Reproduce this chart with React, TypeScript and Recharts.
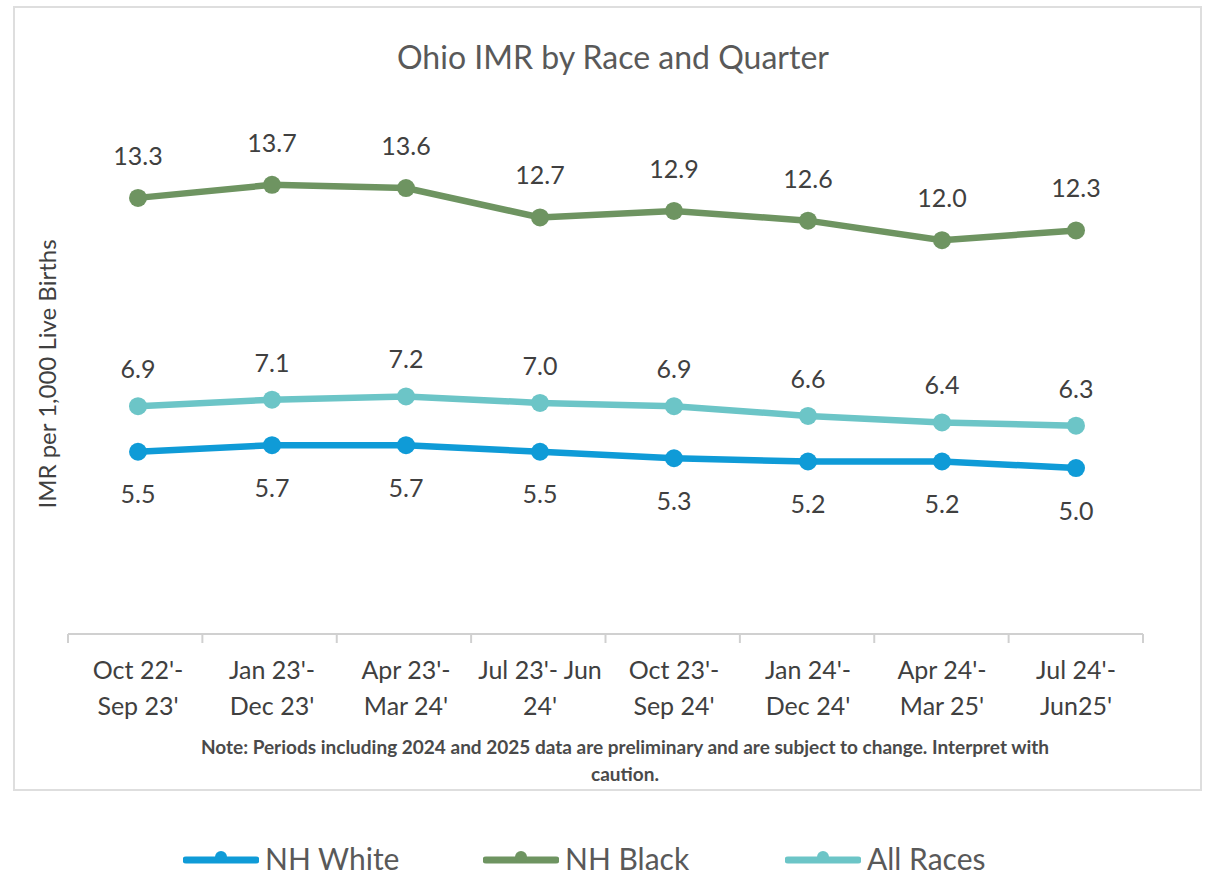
import React from 'react';
import { LineChart, Line, XAxis, YAxis, LabelList } from 'recharts';

const periods = [
  "Oct 22'-|Sep 23'",
  "Jan 23'-|Dec 23'",
  "Apr 23'-|Mar 24'",
  "Jul 23'- Jun|24'",
  "Oct 23'-|Sep 24'",
  "Jan 24'-|Dec 24'",
  "Apr 24'-|Mar 25'",
  "Jul 24'-|Jun25'",
];
const nhWhite = [5.5, 5.7, 5.7, 5.5, 5.3, 5.2, 5.2, 5.0];
const nhBlack = [13.3, 13.7, 13.6, 12.7, 12.9, 12.6, 12.0, 12.3];
const allRaces = [6.9, 7.1, 7.2, 7.0, 6.9, 6.6, 6.4, 6.3];
const boundaryTicks = [0, 1, 2, 3, 4, 5, 6, 7, 8];

const data = periods.map((p, i) => ({
  period: p,
  white: nhWhite[i],
  black: nhBlack[i],
  all: allRaces[i],
}));

const FONT = 'Lato, "Open Sans", sans-serif';
const TEXT = '#404040';
const WHITE_C = '#0f9bd7';
const BLACK_C = '#6e9461';
const ALL_C = '#6cc5c7';

const fmt = (v: any) => Number(v).toFixed(1);

const PeriodTick = (props: any) => {
  const { x, y, payload } = props;
  const lines = String(payload.value).split('|');
  return (
    <g transform={`translate(${x},${y})`}>
      {lines.map((l, i) => (
        <text
          key={i}
          x={0}
          y={29 + i * 36}
          textAnchor="middle"
          fill={TEXT}
          fontSize={25}
          fontFamily={FONT}
        >
          {l}
        </text>
      ))}
    </g>
  );
};

const NoTick = () => <g />;

const legendItems = [
  { name: 'NH White', color: WHITE_C, left: 183 },
  { name: 'NH Black', color: BLACK_C, left: 483 },
  { name: 'All Races', color: ALL_C, left: 785 },
];

export default function App() {
  return (
    <div style={{ position: 'absolute', left: 0, top: 0, width: 1211, height: 875, background: '#fff', fontFamily: FONT }}>
      <div
        style={{
          position: 'absolute',
          left: 13,
          top: 6,
          width: 1185,
          height: 781,
          border: '2px solid #dedede',
        }}
      />
      <div
        style={{
          position: 'absolute',
          left: 0,
          width: 1226,
          top: 38,
          textAlign: 'center',
          fontSize: 32,
          color: '#595959',
          lineHeight: '38px',
        }}
      >
        Ohio IMR by Race and Quarter
      </div>
      <div
        style={{
          position: 'absolute',
          left: 150,
          width: 950,
          top: 733,
          textAlign: 'center',
          fontSize: 19,
          fontWeight: 700,
          color: '#4a4a4a',
          lineHeight: '27px',
        }}
      >
        Note: Periods including 2024 and 2025 data are preliminary and are subject to change. Interpret with
        <br />
        caution.
      </div>
      <div
        style={{
          position: 'absolute',
          left: 46,
          top: 374,
          transform: 'translate(-50%, -50%) rotate(-90deg)',
          whiteSpace: 'nowrap',
          fontSize: 24,
          color: TEXT,
        }}
      >
        IMR per 1,000 Live Births
      </div>
      <div style={{ position: 'absolute', left: 0, top: 0 }}>
        <LineChart width={1211} height={875} data={data} margin={{ top: 110, right: 68, bottom: 173, left: 68 }}>
          <XAxis
            xAxisId="a_grid"
            type="number"
            dataKey={() => 0}
            domain={[0, 8]}
            ticks={boundaryTicks}
            tick={<NoTick />}
            tickLine={{ stroke: '#d0d0d0', strokeWidth: 2 }}
            tickSize={9}
            height={8}
            stroke="#d0d0d0"
            strokeWidth={2}
          />
          <XAxis
            xAxisId="b_cat"
            dataKey="period"
            axisLine={false}
            tickLine={false}
            interval={0}
            height={60}
            padding={{ left: 70, right: 67 }}
            tick={<PeriodTick />}
          />
          <YAxis hide domain={[-0.1, 16]} allowDataOverflow />
          <Line
            xAxisId="b_cat"
            dataKey="black"
            stroke={BLACK_C}
            strokeWidth={6.5}
            dot={{ r: 9, fill: BLACK_C, stroke: 'none' }}
            isAnimationActive={false}
          >
            <LabelList dataKey="black" position="top" offset={33} fill={TEXT} fontSize={25} fontFamily={FONT} formatter={fmt} />
          </Line>
          <Line
            xAxisId="b_cat"
            dataKey="all"
            stroke={ALL_C}
            strokeWidth={6.5}
            dot={{ r: 9, fill: ALL_C, stroke: 'none' }}
            isAnimationActive={false}
          >
            <LabelList dataKey="all" position="top" offset={28} fill={TEXT} fontSize={25} fontFamily={FONT} formatter={fmt} />
          </Line>
          <Line
            xAxisId="b_cat"
            dataKey="white"
            stroke={WHITE_C}
            strokeWidth={6.5}
            dot={{ r: 9, fill: WHITE_C, stroke: 'none' }}
            isAnimationActive={false}
          >
            <LabelList dataKey="white" position="bottom" offset={34} fill={TEXT} fontSize={25} fontFamily={FONT} formatter={fmt} />
          </Line>
        </LineChart>
      </div>
      {legendItems.map((it) => (
        <div
          key={it.name}
          style={{ position: 'absolute', left: it.left, top: 840, display: 'flex', alignItems: 'center', height: 36 }}
        >
          <svg width={76} height={22} style={{ marginRight: 6 }}>
            <line x1={3} y1={13} x2={73} y2={13} stroke={it.color} strokeWidth={7} strokeLinecap="round" />
            <circle cx={38} cy={10} r={6} fill={it.color} />
          </svg>
          <span style={{ fontSize: 30, color: '#595959' }}>{it.name}</span>
        </div>
      ))}
    </div>
  );
}
